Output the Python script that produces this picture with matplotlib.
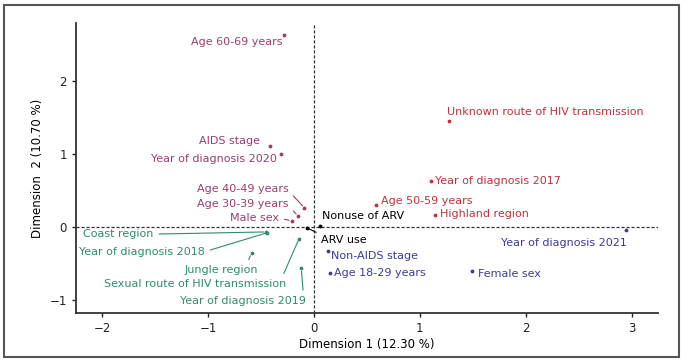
import numpy as np
import matplotlib.pyplot as plt
from matplotlib.patches import Rectangle

# MCA variable categories (dimension 1, dimension 2)
labels = ["Age 60-69 years", "AIDS stage", "Year of diagnosis 2020",
          "Age 40-49 years", "Age 30-39 years", "Male sex",
          "Unknown route of HIV transmission", "Year of diagnosis 2017",
          "Age 50-59 years", "Highland region",
          "Year of diagnosis 2021", "Female sex", "Age 18-29 years", "Non-AIDS stage",
          "Coast region", "Year of diagnosis 2018", "Jungle region",
          "Sexual route of HIV transmission", "Year of diagnosis 2019",
          "Nonuse of ARV", "ARV use"]
dim1 = [-0.28, -0.42, -0.31, -0.09, -0.15, -0.21,
        1.28, 1.11, 0.59, 1.14,
        2.95, 1.49, 0.15, 0.13,
        -0.45, -0.44, -0.59, -0.14, -0.12,
        0.06, -0.07]
dim2 = [2.62, 1.10, 0.99, 0.26, 0.15, 0.08,
        1.45, 0.63, 0.30, 0.16,
        -0.04, -0.60, -0.63, -0.33,
        -0.07, -0.08, -0.36, -0.16, -0.57,
        0.01, -0.01]
cluster = [0, 0, 0, 0, 0, 0,
           1, 1, 1, 1,
           2, 2, 2, 2,
           3, 3, 3, 3, 3,
           4, 4]

colors = ["#9B3D6E", "#C0313C", "#3B3B9A", "#2E8B6F", "black"]

# label placement (text x, text y, ha, va, segment?, segment anchor)
label_pos = [(-0.30, 2.53, "right", "center", False, None),
             (-0.80, 1.18, "center", "center", False, None),
             (-0.35, 0.93, "right", "center", False, None),
             (-0.24, 0.52, "right", "center", True, (1, 0.3)),
             (-0.24, 0.31, "right", "center", True, (1, 0.3)),
             (-0.33, 0.12, "right", "center", True, (1, 0.5)),
             (1.26, 1.57, "left", "center", False, None),
             (1.14, 0.63, "left", "center", False, None),
             (0.63, 0.35, "left", "center", False, None),
             (1.19, 0.18, "left", "center", False, None),
             (2.96, -0.22, "right", "center", False, None),
             (1.55, -0.64, "left", "center", False, None),
             (0.19, -0.63, "left", "center", False, None),
             (0.16, -0.40, "left", "center", False, None),
             (-2.18, -0.10, "left", "center", True, (1, 0.5)),
             (-2.22, -0.34, "left", "center", True, (1, 0.5)),
             (-0.88, -0.59, "center", "center", True, (0.85, 1)),
             (-1.12, -0.78, "center", "center", True, (0.97, 0.9)),
             (-0.67, -1.01, "center", "center", True, (0.98, 1)),
             (0.08, 0.15, "left", "center", False, None),
             (0.07, -0.18, "left", "center", True, (0, 1))]

fig = plt.figure(figsize=(6.89, 3.64), dpi=100)
ax = fig.add_axes([0.110, 0.140, 0.845, 0.797])

ax.axhline(0, color="#333333", ls=(0, (2.5, 1.5)), lw=0.9, zorder=1)
ax.axvline(0, color="#333333", ls=(0, (2.5, 1.5)), lw=0.9, zorder=1)

for i in range(len(labels)):
    c = colors[cluster[i]]
    ax.scatter(dim1[i], dim2[i], s=3, color=c, zorder=3)
    tx, ty, ha, va, seg, rp = label_pos[i]
    if seg:
        ax.annotate(labels[i], (dim1[i], dim2[i]), xytext=(tx, ty),
                    textcoords="data", ha=ha, va=va, color=c, fontsize=8,
                    arrowprops=dict(arrowstyle="-", color=c, lw=0.8,
                                    shrinkA=2, shrinkB=2, relpos=rp))
    else:
        ax.text(tx, ty, labels[i], ha=ha, va=va, color=c, fontsize=8)

ax.set_xlim(-2.25, 3.25)
ax.set_ylim(-1.18, 2.79)
ax.set_xticks([-2, -1, 0, 1, 2, 3])
ax.set_yticks([-1, 0, 1, 2])
ax.spines["top"].set_visible(False)
ax.spines["right"].set_visible(False)
for s in ["left", "bottom"]:
    ax.spines[s].set_linewidth(1.3)
    ax.spines[s].set_color("#333333")
ax.tick_params(labelsize=8.5, colors="#222222", length=3, width=1)
ax.set_xlabel("Dimension 1 (12.30 %)", fontsize=8.5, labelpad=2)
ax.set_ylabel("Dimension  2 (10.70 %)", fontsize=8.5, labelpad=4)

fig.patches.append(Rectangle((0.006, 0.019), 0.980, 0.967, transform=fig.transFigure,
                             fill=False, edgecolor="#555555", lw=1.5))

fig.savefig("out.png", dpi=100)
